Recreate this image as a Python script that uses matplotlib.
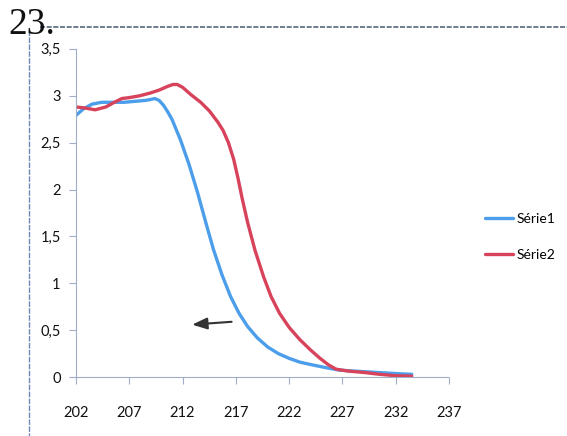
import matplotlib
matplotlib.use("Agg")
import matplotlib.pyplot as plt
from matplotlib.lines import Line2D

# --- data ------------------------------------------------------------------
serie1_x = [202.0, 202.7, 203.5, 204.4, 205.5, 206.5, 207.5, 208.5, 209.0, 209.4,
            209.8, 210.2, 210.6, 211.0, 211.8, 212.6, 213.4, 214.2, 214.9, 215.7,
            216.5, 217.3, 218.1, 219.0, 220.0, 221.0, 222.0, 223.0, 224.2, 225.5,
            226.7, 228.0, 229.5, 231.0, 232.5, 233.5]
serie1_y = [2.79, 2.86, 2.91, 2.93, 2.93, 2.93, 2.94, 2.95, 2.96, 2.97,
            2.95, 2.90, 2.83, 2.75, 2.53, 2.27, 1.97, 1.64, 1.36, 1.09,
            0.86, 0.68, 0.54, 0.42, 0.32, 0.25, 0.20, 0.16, 0.13, 0.10,
            0.075, 0.065, 0.055, 0.045, 0.035, 0.03]

serie2_x = [202.0, 202.8, 203.8, 204.8, 205.6, 206.3, 207.0, 208.0, 209.0, 209.8,
            210.6, 211.1, 211.5, 212.0, 212.8, 213.7, 214.5, 215.3, 215.8, 216.3,
            216.8, 217.2, 217.6, 218.1, 218.8, 219.6, 220.3, 221.1, 222.0, 223.0,
            224.0, 224.9, 225.7, 226.4, 227.5, 229.0, 230.5, 232.0, 233.5]
serie2_y = [2.88, 2.87, 2.85, 2.88, 2.93, 2.97, 2.98, 3.00, 3.03, 3.06,
            3.10, 3.12, 3.12, 3.09, 3.01, 2.93, 2.84, 2.72, 2.63, 2.50,
            2.32, 2.12, 1.90, 1.65, 1.35, 1.07, 0.86, 0.68, 0.53, 0.40,
            0.29, 0.20, 0.13, 0.085, 0.065, 0.05, 0.03, 0.015, 0.01]

x_ticks = [202, 207, 212, 217, 222, 227, 232, 237]
y_ticks = [0, 0.5, 1, 1.5, 2, 2.5, 3, 3.5]
y_tick_labels = ["0", "0,5", "1", "1,5", "2", "2,5", "3", "3,5"]
series_names = ["Série1", "Série2"]

# arrow (tail -> head), in data units
arrow_tail = (216.6, 0.59)
arrow_head = (212.9, 0.56)

BLUE = "#4C9EEA"
RED = "#D8435C"
AXIS = "#9FAEC6"

plt.rcParams["font.family"] = ["Lato", "DejaVu Sans"]

fig = plt.figure(figsize=(5.67, 4.36), dpi=100)
ax = fig.add_axes([0.134, 0.135, 0.658, 0.753])

ax.plot(serie1_x, serie1_y, color=BLUE, lw=2.4, label=series_names[0],
        solid_capstyle="round", solid_joinstyle="round")
ax.plot(serie2_x, serie2_y, color=RED, lw=2.4, label=series_names[1],
        solid_capstyle="round", solid_joinstyle="round")

ax.annotate("", xy=arrow_head, xytext=arrow_tail,
            arrowprops=dict(arrowstyle="-|>,head_length=0.9,head_width=0.35",
                            color="#333333", lw=1.5, shrinkA=0, shrinkB=0))

ax.set_xlim(202, 237)
ax.set_ylim(0, 3.5)
ax.set_xticks(x_ticks)
ax.set_yticks(y_ticks)
ax.set_yticklabels(y_tick_labels)

for side in ["top", "right"]:
    ax.spines[side].set_visible(False)
ax.spines["left"].set_color(AXIS)
ax.spines["bottom"].set_color(AXIS)
ax.spines["left"].set_linewidth(0.8)
ax.spines["bottom"].set_linewidth(0.8)
ax.spines["bottom"].set_linestyle((0, (2, 1)))
ax.tick_params(axis="both", colors=AXIS, labelcolor="#111111", labelsize=10.5,
               length=5, width=0.8)
ax.tick_params(axis="x", pad=16)
ax.tick_params(axis="y", pad=6)

fig.legend(loc="center left", bbox_to_anchor=(0.855, 0.457), frameon=False,
           fontsize=10, handlelength=2.0, handletextpad=0.3, labelspacing=1.75,
           borderpad=0, borderaxespad=0)

# scan frame lines and the item number
fig.add_artist(Line2D([40 / 567, 1.0], [1 - 27 / 436, 1 - 27 / 436],
                      color="#55667a", lw=1.2, ls=(0, (3, 1))))
fig.add_artist(Line2D([29 / 567, 29 / 567], [1 - 30 / 436, 0.0],
                      color="#7088b8", lw=1.0, ls=(0, (4, 1))))
fig.text(8 / 567, 1 - 8 / 436, "23.", family="Liberation Serif", fontsize=27,
         va="top", ha="left", color="#111111")

fig.savefig("out.png", dpi=100)
